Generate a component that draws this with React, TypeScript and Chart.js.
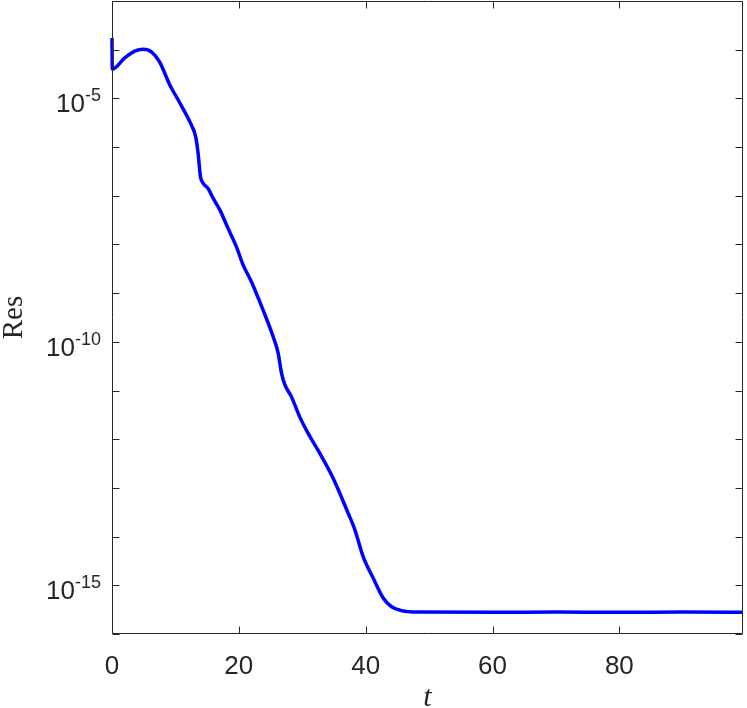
import React, { useEffect, useRef } from "react";
import { Chart, registerables } from "chart.js";

Chart.register(...registerables);

// time samples (t) and residual values (Res)
const tValues = [
  0, 0.05, 2.0, 3.58, 4.9, 6.26, 7.5, 9.1, 10.68, 12.53, 13.2, 13.57, 13.95,
  14.36, 15.15, 15.94, 17.0, 18.3, 19.63, 20.67, 22.0, 23.83, 25.4,
  26.2, 26.73, 27.25, 28.3, 29.6, 30.93, 32.77, 34.87, 37.24, 38.3, 39.6,
  41.18, 42.76, 44.09, 45.66, 48.0, 60, 70, 80, 90, 99.5,
];
const resValues = [
  1.74e-4, 4.02e-5, 6.76e-5, 9.33e-5, 1.02e-4, 8.91e-5, 5.62e-5, 1.91e-5,
  8.13e-6, 2.82e-6, 1.62e-6, 7.59e-7, 2.45e-7, 1.82e-7, 1.41e-7, 8.91e-8,
  5.13e-8, 2.14e-8, 8.91e-9, 3.8e-9, 1.7e-9, 4.47e-10, 1.29e-10,
  5.89e-11, 2.29e-11, 1.32e-11, 7.41e-12, 2.88e-12, 1.32e-12, 5.13e-13,
  1.58e-13, 3.02e-14, 1.38e-14, 3.89e-15, 1.41e-15, 5.5e-16, 3.63e-16,
  3.02e-16, 2.82e-16, 2.8e-16, 2.82e-16, 2.8e-16, 2.82e-16, 2.81e-16,
];

const xTicks = [0, 20, 40, 60, 80];
const xTickLabels = ["0", "20", "40", "60", "80"];
const yTicks = [
  1e-16, 1e-15, 1e-14, 1e-13, 1e-12, 1e-11, 1e-10, 1e-9, 1e-8, 1e-7, 1e-6,
  1e-5, 1e-4, 1e-3,
];
const yLabelTicks = [1e-5, 1e-10, 1e-15];
const yLabelExps = ["-5", "-10", "-15"];

const X_MIN = 0;
const X_MAX = 99.5;
const Y_MIN = 1e-16;
const Y_MAX = 1e-3;

const AXIS_COLOR = "#262626";

const axesPlugin = {
  id: "matlabAxes",
  afterDraw(chart: any) {
    const { ctx, chartArea, scales } = chart;
    const xs = scales.x;
    const ys = scales.y;
    const L = Math.round(chartArea.left) + 0.5;
    const R = Math.round(chartArea.right) - 0.5;
    const T = Math.round(chartArea.top) + 0.5;
    const B = Math.round(chartArea.bottom) - 0.5;
    const tl = 7;
    ctx.save();
    ctx.strokeStyle = AXIS_COLOR;
    ctx.lineWidth = 1;
    ctx.beginPath();
    ctx.rect(L, T, R - L, B - T);
    ctx.stroke();

    ctx.beginPath();
    xTicks.forEach((v) => {
      const x = Math.round(xs.getPixelForValue(v)) + 0.5;
      ctx.moveTo(x, B);
      ctx.lineTo(x, B - tl);
      ctx.moveTo(x, T);
      ctx.lineTo(x, T + tl);
    });
    yTicks.forEach((v) => {
      const y = Math.round(ys.getPixelForValue(v)) + 0.5;
      ctx.moveTo(L, y);
      ctx.lineTo(L + tl, y);
      ctx.moveTo(R, y);
      ctx.lineTo(R - tl, y);
    });
    ctx.stroke();

    // x tick labels
    ctx.fillStyle = AXIS_COLOR;
    ctx.font = '26px "Liberation Sans", Arial, sans-serif';
    ctx.textAlign = "center";
    ctx.textBaseline = "alphabetic";
    xTicks.forEach((v, i) => {
      ctx.fillText(xTickLabels[i], xs.getPixelForValue(v), 674);
    });

    // y tick labels: 10^exp
    const rightEdge = 101;
    yLabelTicks.forEach((v, i) => {
      const y = ys.getPixelForValue(v);
      ctx.font = '18px "Liberation Sans", Arial, sans-serif';
      const ew = ctx.measureText(yLabelExps[i]).width;
      ctx.textAlign = "left";
      ctx.fillText(yLabelExps[i], rightEdge - ew, y + 3);
      ctx.font = '26px "Liberation Sans", Arial, sans-serif';
      ctx.textAlign = "right";
      ctx.fillText("10", rightEdge - ew, y + 14);
    });

    // axis titles
    ctx.textAlign = "center";
    ctx.font = 'italic 30px "Liberation Serif", "DejaVu Serif", serif';
    ctx.fillText("t", (chartArea.left + chartArea.right) / 2, 706);

    ctx.save();
    ctx.translate(22, (chartArea.top + chartArea.bottom) / 2);
    ctx.rotate(-Math.PI / 2);
    ctx.font = '29px "Liberation Serif", "DejaVu Serif", serif';
    ctx.textAlign = "center";
    ctx.fillText("Res", 0, 0);
    ctx.restore();

    ctx.restore();
  },
};

export default function App() {
  const canvasRef = useRef<HTMLCanvasElement | null>(null);

  useEffect(() => {
    const canvas = canvasRef.current;
    if (!canvas) return;
    const data = tValues.map((t, i) => ({ x: t, y: resValues[i] }));
    const chart = new Chart(canvas, {
      type: "line",
      data: {
        datasets: [
          {
            data,
            borderColor: "#0000ff",
            backgroundColor: "#0000ff",
            borderWidth: 3.5,
            pointRadius: 0,
            cubicInterpolationMode: "monotone",
            fill: false,
            clip: 3,
          } as any,
        ],
      },
      options: {
        animation: false,
        responsive: false,
        maintainAspectRatio: false,
        devicePixelRatio: 1,
        layout: { padding: { left: 112, right: 4, top: 1, bottom: 74 } },
        plugins: {
          legend: { display: false },
          tooltip: { enabled: false },
          title: { display: false },
        },
        scales: {
          x: {
            type: "linear",
            min: X_MIN,
            max: X_MAX,
            display: false,
          },
          y: {
            type: "logarithmic",
            min: Y_MIN,
            max: Y_MAX,
            display: false,
          },
        },
      },
      plugins: [axesPlugin],
    });
    return () => chart.destroy();
  }, []);

  return (
    <div
      style={{
        position: "absolute",
        left: 0,
        top: 0,
        width: 747,
        height: 708,
        background: "#ffffff",
      }}
    >
      <canvas ref={canvasRef} width={747} height={708} />
    </div>
  );
}
